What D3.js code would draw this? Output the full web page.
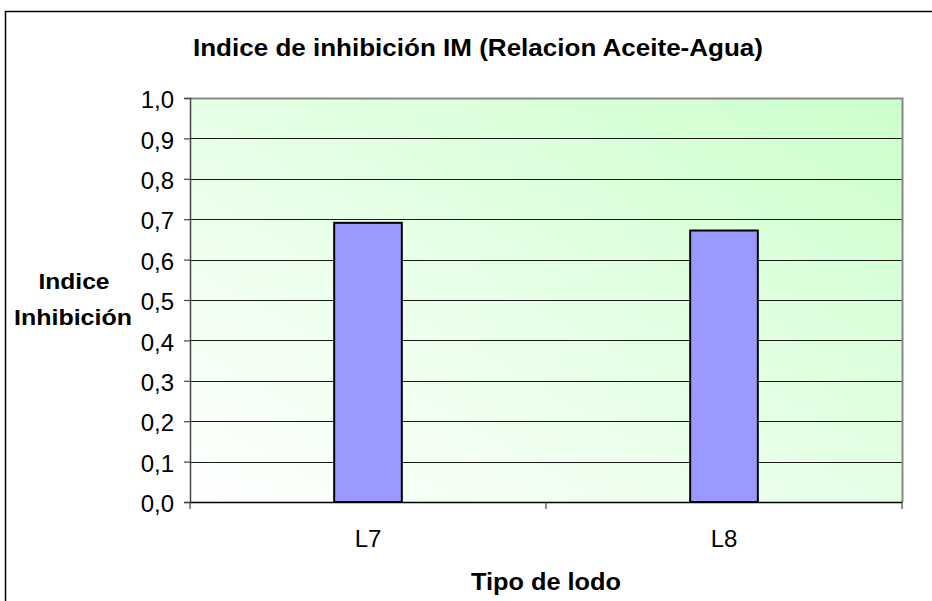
<!DOCTYPE html>
<html><head><meta charset="utf-8">
<script src="https://cdn.jsdelivr.net/npm/d3@7/dist/d3.min.js"></script>
<style>html,body{margin:0;padding:0;background:#fff;}svg{display:block;font-family:"Liberation Sans",Arial,sans-serif;}</style>
</head><body>
<script>
const categories = ["L7", "L8"];
const values = [0.691, 0.672];
const yTicks = [0,0.1,0.2,0.3,0.4,0.5,0.6,0.7,0.8,0.9,1.0];
const title = "Indice de inhibición IM (Relacion Aceite-Agua)";
const yTitle = ["Indice", "Inhibición"];
const xTitle = "Tipo de lodo";

const W = 932, H = 601;
const m = {left:190, top:98, right:902, bottom:502};
const FF = "'Liberation Sans',Arial,sans-serif";
const svg = d3.select("body").append("svg").attr("width", W).attr("height", H);

const defs = svg.append("defs");
const g = defs.append("linearGradient").attr("id","bg").attr("x1","0%").attr("y1","100%").attr("x2","100%").attr("y2","0%");
g.append("stop").attr("offset","0%").attr("stop-color","#ffffff");
g.append("stop").attr("offset","100%").attr("stop-color","#ccffcc");

// outer frame
svg.append("rect").attr("x",5.5).attr("y",11.5).attr("width",1000).attr("height",700)
  .attr("fill","none").attr("stroke","#000").attr("stroke-width",1.5);

const x = d3.scaleBand().domain(categories).range([m.left, m.right]).padding(0);
const y = d3.scaleLinear().domain([0,1]).range([m.bottom, m.top]);

svg.append("rect").attr("x",m.left).attr("y",m.top).attr("width",m.right-m.left).attr("height",m.bottom-m.top)
  .attr("fill","url(#bg)");

// gridlines
svg.append("g").selectAll("line").data(yTicks.filter(d=>d>0 && d<1)).join("line")
  .attr("x1",m.left).attr("x2",m.right).attr("y1",d=>Math.round(y(d))+0.5).attr("y2",d=>Math.round(y(d))+0.5)
  .attr("stroke","#1a1a1a").attr("stroke-width",1.2);

// plot border top & right
svg.append("path").attr("d",`M${m.left},${m.top+0.5}H${m.right+0.5}V${m.bottom}`)
  .attr("fill","none").attr("stroke","#888").attr("stroke-width",2);

// bars
const bw = x.bandwidth()*0.19;
svg.append("g").selectAll("rect").data(categories).join("rect")
  .attr("x",(d)=>x(d)+x.bandwidth()/2-bw/2)
  .attr("y",(d,i)=>y(values[i]))
  .attr("width",bw)
  .attr("height",(d,i)=>y(0)-y(values[i]))
  .attr("fill","#9999ff").attr("stroke","#000").attr("stroke-width",2);

// y axis
const yAxis = d3.axisLeft(y).tickValues(yTicks).tickSize(6).tickPadding(10)
  .tickFormat(d=>d3.format(".1f")(d).replace(".",","));
const ya = svg.append("g").attr("transform",`translate(${m.left},0)`).call(yAxis);
ya.attr("font-family",FF).attr("font-size",24);
ya.select(".domain").attr("stroke","#444").attr("stroke-width",1.5);
ya.selectAll(".tick line").attr("stroke","#444").attr("stroke-width",1.2);
ya.selectAll(".tick text").attr("font-size",24).attr("fill","#000")
  .attr("font-family",FF).attr("dy","0.36em").attr("y",1);

// x axis
const xa = svg.append("g").attr("transform",`translate(0,${m.bottom})`)
  .call(d3.axisBottom(x).tickSize(0).tickPadding(0));
xa.attr("font-family",FF).attr("font-size",24);
xa.select(".domain").attr("stroke","#000").attr("stroke-width",1.5);
xa.selectAll(".tick text").attr("font-size",24).attr("fill","#000")
  .attr("font-family",FF).attr("dy",null).attr("y",45);
// boundary ticks
const bounds = [m.left, ...categories.map(c=>x(c)+x.bandwidth())];
svg.append("g").selectAll("line").data(bounds).join("line")
  .attr("x1",d=>d).attr("x2",d=>d).attr("y1",m.bottom).attr("y2",m.bottom+7)
  .attr("stroke","#444").attr("stroke-width",1.2);

// titles
svg.append("text").attr("x",478).attr("y",56).attr("text-anchor","middle")
  .attr("font-size",23).attr("font-weight","bold").attr("textLength",570).attr("lengthAdjust","spacingAndGlyphs")
  .text(title);
svg.append("text").attr("x",74).attr("y",289).attr("text-anchor","middle")
  .attr("font-size",22).attr("font-weight","bold").attr("textLength",71).attr("lengthAdjust","spacingAndGlyphs").text(yTitle[0]);
svg.append("text").attr("x",73).attr("y",325).attr("text-anchor","middle")
  .attr("font-size",22).attr("font-weight","bold").attr("textLength",118).attr("lengthAdjust","spacingAndGlyphs").text(yTitle[1]);
svg.append("text").attr("x",546).attr("y",590).attr("text-anchor","middle")
  .attr("font-size",24).attr("font-weight","bold").attr("textLength",150).attr("lengthAdjust","spacingAndGlyphs").text(xTitle);
</script>
</body></html>
